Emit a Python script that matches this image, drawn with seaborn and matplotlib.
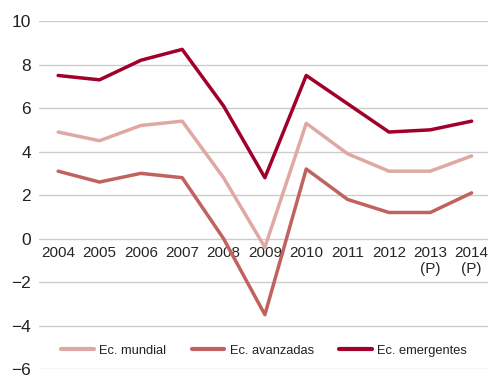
import matplotlib
matplotlib.use("Agg")
import matplotlib.pyplot as plt
import seaborn as sns
import pandas as pd

# Crecimiento del PIB (%)
years = ["2004", "2005", "2006", "2007", "2008", "2009", "2010", "2011", "2012",
         "2013\n(P)", "2014\n(P)"]
mundial = [4.9, 4.5, 5.2, 5.4, 2.8, -0.4, 5.3, 3.9, 3.1, 3.1, 3.8]
avanzadas = [3.1, 2.6, 3.0, 2.8, 0.0, -3.5, 3.2, 1.8, 1.2, 1.2, 2.1]
emergentes = [7.5, 7.3, 8.2, 8.7, 6.1, 2.8, 7.5, 6.2, 4.9, 5.0, 5.4]

series_names = ["Ec. mundial", "Ec. avanzadas", "Ec. emergentes"]
colors = ["#dfa9a3", "#c0625f", "#a0002a"]

rows = []
for name, vals in zip(series_names, [mundial, avanzadas, emergentes]):
    for i, v in enumerate(vals):
        rows.append({"idx": i, "valor": v, "serie": name})
df = pd.DataFrame(rows)

sns.set_theme(style="white")
plt.rcParams["font.family"] = ["Liberation Sans", "DejaVu Sans"]

fig = plt.figure(figsize=(4.89, 3.77), dpi=100)
ax = fig.add_axes([0.08, 0.021, 0.92, 0.923])

sns.lineplot(data=df, x="idx", y="valor", hue="serie", hue_order=series_names,
             palette=colors, linewidth=2.5, ax=ax, legend=True)

ax.set_ylim(-6, 10)
ax.set_xlim(-0.46, 10.42)
ax.set_yticks(range(-6, 11, 2))
ax.yaxis.grid(True, color="#cccccc", linewidth=1.0)
ax.set_axisbelow(True)
for s in ax.spines.values():
    s.set_visible(False)

ax.set_xticks(range(len(years)))
ax.set_xticklabels(years, fontsize=9.3, color="#222222", linespacing=1.0)
ax.spines["bottom"].set_position(("data", 0))
ax.tick_params(axis="x", length=0, pad=5)
ax.tick_params(axis="y", length=0, pad=6, labelsize=12.5, labelcolor="#222222")
ax.set_xlabel("")
ax.set_ylabel("")

leg = ax.legend(loc="center", bbox_to_anchor=(0.5, 0.052), ncol=3, frameon=False,
                fontsize=9.3, handlelength=2.55, handletextpad=0.4, columnspacing=1.95,
                borderaxespad=0)
for line in leg.get_lines():
    line.set_linewidth(3.0)
for t in leg.get_texts():
    t.set_color("#222222")

fig.savefig("out.png", dpi=100)
